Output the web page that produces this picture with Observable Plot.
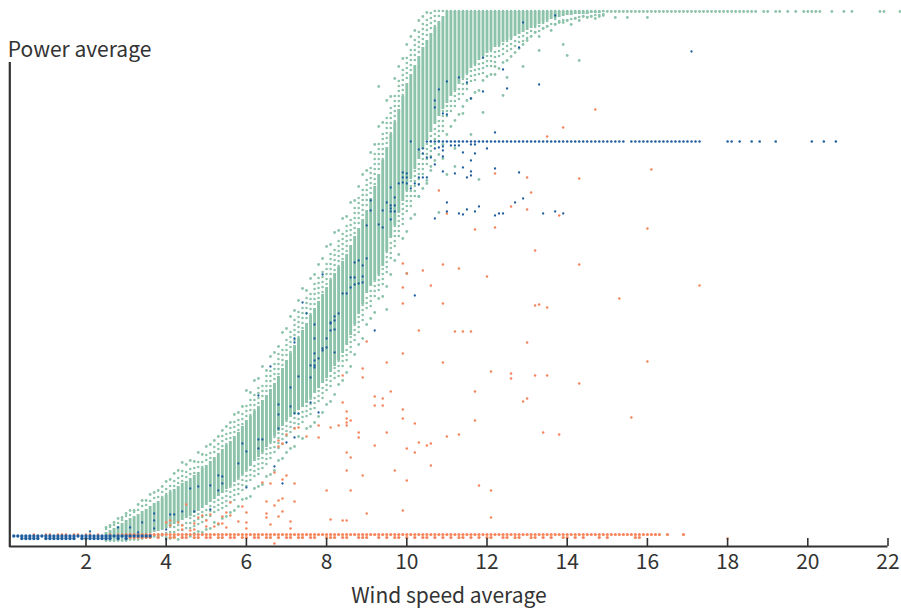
<!DOCTYPE html>
<html><head><meta charset="utf-8">
<style>html,body{margin:0;padding:0;background:#fff}svg{display:block}</style>
<script src="https://cdn.jsdelivr.net/npm/d3@7"></script>
<script src="https://cdn.jsdelivr.net/npm/@observablehq/plot@0.6"></script>
</head><body><div id="chart"></div>
<script>
const xTicks = [2,4,6,8,10,12,14,16,18,20,22];
const columnWind = [2.5,2.6,2.7,2.8,2.9,3.0,3.1,3.2,3.3,3.4,3.5,3.6,3.7,3.8,3.9,4.0,4.1,4.2,4.3,4.4,4.5,4.6,4.7,4.8,4.9,5.0,5.1,5.2,5.3,5.4,5.5,5.6,5.7,5.8,5.9,6.0,6.1,6.2,6.3,6.4,6.5,6.6,6.7,6.8,6.9,7.0,7.1,7.2,7.3,7.4,7.5,7.6,7.7,7.8,7.9,8.0,8.1,8.2,8.3,8.4,8.5,8.6,8.7,8.8,8.9,9.0,9.1,9.2,9.3,9.4,9.5,9.6,9.7,9.8,9.9,10.0,10.1,10.2,10.3,10.4,10.5,10.6,10.7,10.8,10.9,11.0,11.1,11.2,11.3,11.4,11.5,11.6,11.7,11.8,11.9,12.0,12.1,12.2,12.3,12.4,12.5,12.6,12.7,12.8,12.9,13.0,13.1,13.2,13.3,13.4,13.5,13.6,13.7,13.8,13.9,14.0,14.1,14.2,14.3,14.4,14.5,14.6,14.7,14.8,14.9];
const columnHigh = [4,6,8,10,13,16,18,20,22,25,27,30,33,35,38,41,44,47,50,53,55,58,61,64,68,71,75,79,83,87,91,95,100,104,110,116,120,125,130,136,141,147,153,160,168,176,183,191,198,206,213,221,228,235,242,249,256,263,269,275,282,291,300,308,317,326,338,350,362,376,389,402,414,427,440,453,462,471,480,489,496,503,509,515,520,525,525,525,525,525,525,525,525,525,525,525,525,525,525,525,525,525,525,525,525,525,525,525,525,525,525,525,525,525,525,525,525,525,525,525,525,525,525,525,525];
const columnLow = [-3,-3,-3,-2,-2,-1,-1,0,0,1,2,3,4,5,6,8,10,12,14,16,18,20,23,25,28,31,34,37,40,43,47,50,54,58,62,66,70,75,79,84,89,94,100,105,110,116,119,122,126,129,133,138,143,148,153,158,164,170,176,183,191,201,212,222,232,243,250,256,262,270,285,298,311,323,335,346,357,367,377,387,396,404,412,420,427,433,440,446,452,458,463,468,472,476,480,483,486,489,491,494,496,498,500,502,504,506,508,510,512,514,516,517,518,519,520,521,521,522,522,522,522,523,523,523,524];
const fringeHigh = [7,9,11,13,16,20,21,24,26,30,31,35,38,39,44,47,50,55,58,65,64,67,68,74,74,81,83,89,92,100,102,108,114,116,122,130,136,141,148,150,160,165,172,182,186,196,204,216,224,228,238,242,252,258,264,272,282,286,295,302,310,316,328,338,346,356,368,382,392,402,418,428,440,455,466,478,486,496,504,512,516,523,525,525,525,525,525,525,525,525,525,525,525,525,525,525,525,525,525,525,525,525,525,525,525,525,525,525,525,525,525,525,525,525,525,525,525,525,525,525,525,525,525,525,525];
const fringeLow = [-4,-4,-4,-3,-3,-3,-2,-2,-1,-1,0,0,1,1,2,3,4,4,6,6,8,8,10,12,14,16,20,24,26,28,30,34,36,42,46,50,56,60,62,68,72,78,84,88,92,100,104,108,112,114,120,122,128,135,138,146,150,158,160,170,176,184,196,204,216,228,230,240,246,252,264,278,290,300,312,325,330,340,352,362,372,380,392,395,405,420,425,430,437,442,447,455,456,462,463,470,470,474,480,482,485,487,490,494,495,498,500,504,505,508,510,512,512,515,516,516,517,518,519,520,519,520,521,521,522];
const farHigh = [9,11,14,18,19,23,26,26,32,36,36,42,44,46,50,55,57,63,66,74,72,76,75,84,82,90,92,96,100,106,110,114,122,124,130,146,144,156,158,170,166,180,184,190,204,208,220,226,236,248,246,258,262,272,278,290,292,304,306,318,320,334,336,350,362,366,384,392,410,414,436,440,458,470,478,492,500,506,516,520,524];
const farLow = [-4,-4,-4,-4,-4,-4,-3,-3,-3,-2,-1,-1,0,0,1,-1,-2,0,-3,-1,2,0,3,5,4,7,8,14,12,18,20,24,26,30,37,38,40,48,50,52,60,62,66,76,78,84,88,90,100,98,108,110,114,120,124,132,135,142,152,156,164,170,182,192,198,212,218,224,238,240,250,262,276,282,298,305,318,322,340,348,356,366,376,382,392,402,410,416,422,430,436,438,444,446,456,460,462,470,468,474,476,480,484,488,492,496,500,504,500,508,510,506,512,514,514,516,512,518,516,520,519,520,518,520,521];
const greenTopWind = [15.0,15.1,15.2,15.3,15.4,15.5,15.6,15.7,15.8,15.9,16.0,16.1,16.2,16.3,16.4,16.5,16.6,16.7,16.8,16.9,17.0,17.1,17.2,17.3,17.4,17.5,17.6,17.7,17.8,17.9,18.0,18.1,18.2,18.3,18.4,18.5,18.6,18.7,18.9,19.0,19.2,19.3,19.5,19.7,19.9,20.0,20.1,20.2,20.3,20.6,20.9,21.1,21.8,21.9,22.3];
const greenStray = [[15.2,519],[15.5,519],[16.0,519],[9.3,450],[10.0,263],[9.5,227],[14.0,481],[14.3,476],[13.9,492],[13.3,486],[12.9,470],[12.4,441],[11.9,424],[12.5,459],[12.2,462],[11.8,357],[11.2,370],[11.0,362],[10.8,324],[10.5,353],[11.4,423],[10.9,378],[11.2,388],[10.6,370],[10.3,340],[11.6,402]];
const redBaselineWind = [3.0,3.1,3.2,3.3,3.4,3.5,3.6,3.7,3.8,3.9,4.0,4.1,4.2,4.3,4.4,4.5,4.6,4.7,4.8,4.9,5.0,5.1,5.2,5.3,5.4,5.5,5.6,5.7,5.8,5.9,6.0,6.1,6.2,6.3,6.4,6.5,6.6,6.7,6.8,6.9,7.0,7.1,7.2,7.3,7.4,7.5,7.6,7.7,7.8,7.9,8.0,8.1,8.2,8.3,8.4,8.5,8.6,8.7,8.8,8.9,9.0,9.1,9.2,9.3,9.4,9.5,9.6,9.7,9.8,9.9,10.0,10.1,10.2,10.3,10.4,10.5,10.6,10.7,10.8,10.9,11.0,11.1,11.2,11.3,11.4,11.5,11.6,11.7,11.8,11.9,12.0,12.1,12.2,12.3,12.4,12.5,12.6,12.7,12.8,12.9,13.0,13.1,13.2,13.3,13.4,13.5,13.6,13.7,13.8,13.9,14.0,14.1,14.2,14.3,14.4,14.5,14.6,14.7,14.8,14.9,15.0,15.1,15.2,15.3,15.4,15.5,15.6,15.7,15.8,15.9,16.0,16.1,16.2,16.3,16.5,16.9];
const redLowerRowWind = [3.1,3.2,3.3,3.4,3.5,3.6,3.8,4.1,4.2,4.4,4.5,4.7,4.8,5.0,5.1,5.3,5.4,5.6,5.7,5.9,6.0,6.2,6.3,6.5,6.6,6.8,7.0,7.1,7.3,7.4,7.6,7.7,8.0,8.1,8.2,8.4,8.5,8.8,8.9,9.0,9.3,9.5,9.7,9.8,10.0,10.2,10.4,10.5,10.7,10.9,11.1,11.3,11.4,11.6,11.8,12.0,12.1,12.4,12.5,12.7,12.8,13.1,13.2,13.4,13.6,13.9,14.0,14.2,14.4,14.8,15.0,15.7,15.8];
const redUpperFaintWind = [0.7,1.0,1.1,1.3,1.4,1.5,1.7,1.8,2.0,2.1,2.3,2.6,2.8,2.9];
const redStray = [[14.7,427],[13.9,409],[13.5,400],[12.2,363],[13.0,359],[14.3,358],[13.1,344],[10.8,346],[12.6,330],[13.0,327],[13.8,321],[11.0,323],[11.7,307],[12.2,309],[16.1,367],[16.0,308],[13.2,286],[14.3,272],[17.3,251],[15.3,238],[11.3,268],[12.0,260],[10.9,272],[10.4,266],[9.9,273],[10.0,263],[10.6,251],[9.9,249],[9.9,233],[10.9,233],[13.2,231],[13.3,232],[13.5,229],[10.3,206],[11.2,205],[11.4,205],[11.6,205],[9.0,195],[13.0,194],[9.9,183],[10.9,174],[9.5,174],[8.9,168],[8.4,161],[8.9,159],[16.0,175],[12.1,165],[12.6,163],[12.6,158],[13.2,161],[13.5,161],[14.3,153],[11.7,145],[9.6,145],[9.2,140],[9.4,138],[8.4,134],[9.2,131],[9.4,131],[9.9,127],[8.5,125],[9.9,118],[8.6,116],[8.5,118],[8.5,114],[8.5,111],[10.2,113],[8.3,111],[8.1,109],[7.8,111],[7.3,109],[7.2,108],[7.0,102],[7.5,100],[7.8,99],[8.8,104],[8.8,99],[9.5,104],[6.8,96],[6.9,93],[6.8,90],[9.2,91],[10.5,91],[10.6,93],[12.9,135],[13.0,138],[15.6,119],[11.7,116],[11.3,102],[13.4,104],[13.8,102],[10.0,88],[8.5,84],[8.6,79],[10.3,94],[10.2,84],[10.6,71],[11.0,100],[11.8,51],[12.1,46],[8.0,46],[8.5,66],[8.9,61],[9.7,66],[10.0,56],[8.6,46],[7.0,61],[6.9,57],[6.4,54],[6.7,64],[6.6,53],[7.2,53],[6.5,35],[6.8,36],[6.9,38],[7.2,35],[6.7,31],[5.9,30],[5.6,34],[6.0,24],[6.5,23],[6.9,25],[6.8,20],[6.5,19],[5.5,24],[4.9,21],[4.8,19],[5.1,22],[5.6,21],[5.4,20],[5.0,16],[5.8,15],[6.0,14],[6.0,8],[7.1,15],[6.6,12],[7.1,8],[5.3,13],[5.4,13],[5.2,10],[5.5,9],[5.0,10],[4.7,13],[4.7,7],[4.4,11],[4.5,32],[4.1,16],[4.0,14],[4.3,14],[4.6,6],[4.4,7],[4.1,11],[6.7,-7],[18.0,-2],[8.4,16],[8.5,16],[8.1,17],[9.0,23],[9.9,26],[12.1,19]];
const bluePlateauWind = [10.5,10.6,10.7,10.8,10.9,11.0,11.1,11.2,11.3,11.4,11.5,11.6,11.7,11.8,11.9,12.0,12.1,12.2,12.3,12.4,12.5,12.6,12.7,12.8,12.9,13.0,13.1,13.2,13.3,13.4,13.5,13.6,13.7,13.8,13.9,14.0,14.1,14.2,14.3,14.4,14.5,14.6,14.7,14.8,14.9,15.0,15.1,15.2,15.3,15.4,15.6,15.7,15.8,15.9,16.0,16.1,16.2,16.3,16.4,16.5,16.6,16.7,16.8,16.9,17.0,17.1,17.2,17.3,18.0,18.1,18.3,18.6,18.8,19.2,20.1,20.4,20.7];
const blueBaselineWind = [0.2,0.3,0.4,0.5,0.6,0.7,0.8,0.9,1.0,1.1,1.2,1.3,1.4,1.5,1.6,1.7,1.8,1.9,2.0,2.1,2.2,2.3,2.4,2.5,2.6,2.7,2.8,2.9,3.0,3.1,3.2,3.3,3.4,3.5,3.6];
const blueLowerRowWind = [0.4,0.5,0.6,0.7,0.8,1.0,1.1,1.2,1.3,1.4,1.5,1.6,1.7,1.9,2.0,2.1,2.2,2.3,2.4,2.5,2.6,2.8,3.0];
const blueStray = [[17.1,485],[13.7,521],[12.9,514],[12.8,489],[11.9,479],[12.4,467],[13.3,452],[12.5,448],[11.9,445],[11.6,438],[11.3,459],[11.5,454],[11.0,455],[10.8,447],[10.7,436],[10.7,429],[10.9,423],[11.0,422],[12.2,404],[10.1,395],[10.3,387],[10.4,388],[10.4,383],[10.5,379],[10.6,379],[10.7,388],[10.8,389],[10.9,390],[10.9,386],[11.1,391],[11.2,391],[11.3,391],[11.6,392],[11.7,392],[12.0,388],[11.4,384],[11.7,383],[11.6,376],[10.7,372],[11.4,369],[10.9,380],[12.2,368],[12.8,364],[11.6,365],[11.6,361],[11.5,359],[11.2,363],[10.9,365],[10.3,359],[10.4,359],[10.5,359],[10.3,352],[9.9,364],[10.0,363],[9.9,359],[10.0,359],[9.9,354],[10.0,353],[9.8,353],[10.2,353],[10.1,348],[9.6,349],[9.7,339],[9.5,334],[9.6,331],[9.7,331],[9.6,328],[9.6,325],[9.7,325],[9.4,326],[9.1,336],[9.1,326],[9.0,311],[9.3,312],[9.4,309],[9.6,317],[11.0,334],[11.0,325],[10.7,318],[11.3,323],[11.4,322],[11.5,327],[11.7,325],[11.8,330],[12.2,321],[12.3,323],[12.4,323],[12.7,334],[12.9,338],[13.4,323],[13.7,325],[13.9,323],[9.0,278],[8.7,274],[8.8,276],[8.9,271],[7.9,262],[8.6,259],[8.7,259],[8.9,260],[8.8,253],[8.7,252],[8.6,249],[8.9,254],[8.4,243],[8.5,243],[7.4,234],[7.5,223],[8.3,223],[8.2,220],[8.2,216],[8.1,214],[8.1,213],[7.7,212],[8.2,207],[8.1,206],[7.7,198],[8.0,198],[7.2,198],[7.2,194],[8.0,189],[7.9,188],[7.9,186],[7.7,183],[8.2,184],[7.7,176],[7.8,178],[7.6,171],[7.7,171],[7.7,169],[6.6,170],[7.3,160],[7.6,159],[7.1,149],[6.3,141],[6.8,132],[7.1,130],[6.8,122],[6.8,108],[6.3,97],[6.4,97],[5.9,93],[10.2,241],[9.2,206],[7.6,134],[7.8,124],[7.3,123],[7.2,123],[7.2,99],[6.0,85],[5.8,73],[5.3,61],[5.4,60],[4.6,48],[4.8,50],[5.1,51],[5.4,53],[5.3,46],[5.1,27],[4.7,25],[4.4,25],[4.1,22],[4.2,22],[3.7,23],[3.7,16],[3.4,14],[3.1,9],[2.8,9],[3.3,4],[4.0,7],[3.7,8],[4.0,-3],[2.1,5],[6.9,53],[6.0,49],[7.0,94],[6.3,88],[6.7,70]];
const toPoints = (list) => list.map(([wind, power]) => ({wind, power}));
const fromWind = (list, power) => list.map((wind) => ({wind, power}));
const columns = columnWind.map((wind, i) => ({wind, hi: columnHigh[i], lo: columnLow[i], fhi: fringeHigh[i], flo: fringeLow[i]}));
const farPoints = (list) => list.map((power, i) => ({wind: columnWind[i], power}));

const ink = "#333333", green = "#8cc3aa", red = "#f5855c", blue = "#1f5e9e";
const font = "'Noto Sans CJK SC','Noto Sans',sans-serif";
const dotR = 1.4, strayR = 1.25;

const plot = Plot.plot({
  width: 901, height: 612,
  marginLeft: 9.3, marginRight: 13.5, marginTop: 11, marginBottom: 66,
  style: {fontFamily: font, background: "#fff", overflow: "visible"},
  x: {domain: [0.1, 22], range: [9.3, 887.5]},
  y: {domain: [-10, 525], range: [546, 11]},
  marks: [
    Plot.ruleX(columns, {x: "wind", y1: "fhi", y2: "hi", stroke: green, strokeWidth: 2.6, strokeLinecap: "round", strokeDasharray: "0 5"}),
    Plot.ruleX(columns, {x: "wind", y1: "flo", y2: "lo", stroke: green, strokeWidth: 2.6, strokeLinecap: "round", strokeDasharray: "0 5"}),
    Plot.ruleX(columns, {x: "wind", y1: "lo", y2: "hi", stroke: green, strokeWidth: 2.9}),
    Plot.dot(farPoints(farHigh), {x: "wind", y: "power", r: dotR, fill: green}),
    Plot.dot(farPoints(farLow), {x: "wind", y: "power", r: dotR, fill: green}),
    Plot.dot(fromWind(greenTopWind, 525), {x: "wind", y: "power", r: dotR, fill: green}),
    Plot.dot(toPoints(greenStray), {x: "wind", y: "power", r: dotR, fill: green}),
    Plot.dot(fromWind(redUpperFaintWind, 2), {x: "wind", y: "power", r: strayR, fill: red}),
    Plot.dot(fromWind(redBaselineWind, 2), {x: "wind", y: "power", r: 1.6, fill: red}),
    Plot.dot(fromWind(redLowerRowWind, -1), {x: "wind", y: "power", r: 1.6, fill: red}),
    Plot.dot(toPoints(redStray), {x: "wind", y: "power", r: strayR, fill: red}),
    Plot.dot(fromWind(blueBaselineWind, 0.5), {x: "wind", y: "power", r: 1.7, fill: blue}),
    Plot.dot(fromWind(blueLowerRowWind, -2), {x: "wind", y: "power", r: 1.7, fill: blue}),
    Plot.dot(fromWind(bluePlateauWind, 395), {x: "wind", y: "power", r: strayR, fill: blue}),
    Plot.dot(toPoints(blueStray), {x: "wind", y: "power", r: 1.15, fill: blue}),
    Plot.ruleX(xTicks, {y1: -10, y2: -2, stroke: ink, strokeWidth: 1.6}),
    Plot.ruleY([-10], {x1: 0.1, x2: 22, stroke: ink, strokeWidth: 2.2}),
    Plot.ruleX([0.1], {y1: -11, y2: 474, stroke: ink, strokeWidth: 2.2}),
    Plot.axisX({ticks: xTicks, tickSize: 0, tickPadding: 8, tickFormat: (d) => String(d), fontSize: 21, color: ink,
      label: "Wind speed average", labelAnchor: "center", labelArrow: "none", labelOffset: 56}),
    Plot.axisY({ticks: [], label: null}),
    Plot.text(["Power average"], {x: 0.1, y: 486, text: (d) => d, textAnchor: "start", dx: -2, fontSize: 21, fill: ink})
  ]
});
document.getElementById("chart").appendChild(plot);
</script></body></html>
